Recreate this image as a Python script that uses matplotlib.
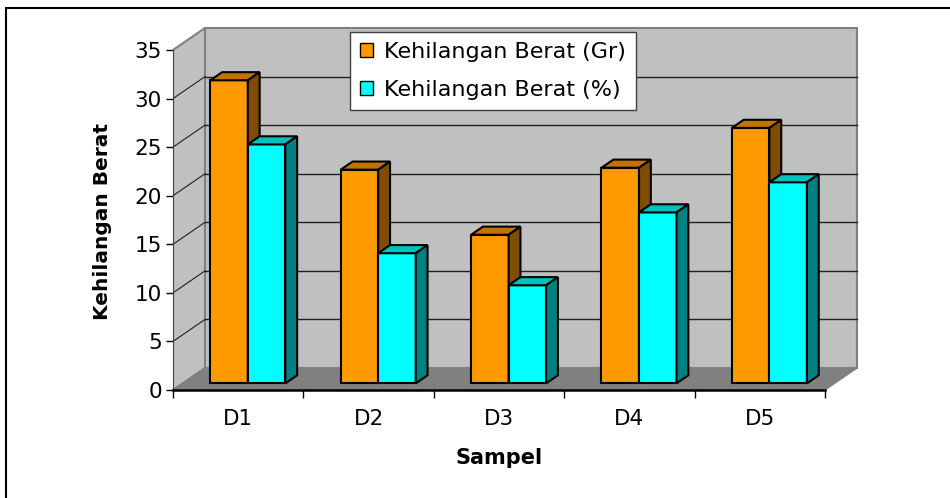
import numpy as np
import matplotlib
matplotlib.use('Agg')
import matplotlib.pyplot as plt
import matplotlib.patches as mpatches
from matplotlib.patches import Polygon, Rectangle

plt.rcParams['font.family'] = ['DejaVu Sans']

categories = ['D1', 'D2', 'D3', 'D4', 'D5']
berat_gr = [31.2, 22.0, 15.3, 22.2, 26.3]
berat_pct = [24.6, 13.4, 10.1, 17.6, 20.7]
series_names = ['Kehilangan Berat (Gr)', 'Kehilangan Berat (%)']
y_ticks = [0, 5, 10, 15, 20, 25, 30, 35]

# front / top / side colours for each series
colors = [('#FF9900', '#C07300', '#7F4C00'),
          ('#00FFFF', '#00C0C0', '#008080')]

W, H = 950, 498
PX_CAT = 130.4
PX_VAL = 9.714
Y_MAX = 35

fig = plt.figure(figsize=(W / 100, H / 100), dpi=100)
ax = fig.add_axes([173 / W, (H - 390) / H, (860 - 173) / W, (390 - 26) / H])
ax.set_xlim(-0.5, -0.5 + (860 - 173) / PX_CAT)
ax.set_ylim(0, (390 - 26) / PX_VAL)

# depth of the 3d box in data units
dx = 32 / PX_CAT
dy = 22 / PX_VAL
x0, x1 = -0.5, len(categories) - 0.5

# walls and floor
ax.add_patch(Polygon([(x0 + dx, dy), (x1 + dx, dy), (x1 + dx, Y_MAX + dy), (x0 + dx, Y_MAX + dy)],
                     facecolor='#C0C0C0', edgecolor='#808080', lw=1.5, zorder=0))
ax.add_patch(Polygon([(x0, 0), (x0 + dx, dy), (x0 + dx, Y_MAX + dy), (x0, Y_MAX)],
                     facecolor='#C0C0C0', edgecolor='#808080', lw=1.5, zorder=0))
ax.add_patch(Polygon([(x0, 0), (x1, 0), (x1 + dx, dy), (x0 + dx, dy)],
                     facecolor='#808080', edgecolor='#808080', lw=1, zorder=0.5))

for v in y_ticks[1:-1]:
    ax.plot([x0 + dx, x1 + dx], [v + dy, v + dy], color='#202020', lw=1, zorder=1)
    ax.plot([x0, x0 + dx], [v, v + dy], color='#202020', lw=0.8, zorder=1)

# bars
f0, f1 = 0.30, 0.67
bw = 0.2876
bx = np.arange(len(categories))
for i in range(len(categories)):
    for s, vals in enumerate([berat_gr, berat_pct]):
        front, top, side = colors[s]
        left = bx[i] - bw + s * bw + f0 * dx
        base = f0 * dy
        h = vals[i]
        ddx = (f1 - f0) * dx
        ddy = (f1 - f0) * dy
        z = 3 + i * 2 + s * 0.5
        ax.bar(left, h, width=bw, bottom=base, align='edge', color=front,
               edgecolor='black', lw=1.5, zorder=z)
        ax.add_patch(Polygon([(left, base + h), (left + bw, base + h),
                              (left + bw + ddx, base + h + ddy), (left + ddx, base + h + ddy)],
                             facecolor=top, edgecolor='black', lw=1.5, zorder=z))
        ax.add_patch(Polygon([(left + bw, base), (left + bw, base + h),
                              (left + bw + ddx, base + h + ddy), (left + bw + ddx, base + ddy)],
                             facecolor=side, edgecolor='black', lw=1.5, zorder=z))

# axes
for sp in ['top', 'right']:
    ax.spines[sp].set_visible(False)
ax.spines['left'].set_bounds(0, Y_MAX)
ax.spines['left'].set_color('#404040')
ax.spines['bottom'].set_bounds(x0, x1)
ax.spines['bottom'].set_linewidth(1.8)
ax.spines['left'].set_zorder(20)
ax.spines['bottom'].set_zorder(20)

ax.set_yticks(y_ticks)
ax.tick_params(axis='y', direction='out', length=5, width=1, pad=3, labelsize=15.5)
ax.set_xticks(np.arange(x0, x1 + 0.01, 1))
ax.set_xticklabels([])
ax.tick_params(axis='x', which='major', direction='out', length=6, width=1)
ax.set_xticks(bx, minor=True)
ax.set_xticklabels(categories, minor=True)
ax.tick_params(axis='x', which='minor', length=0, pad=14, labelsize=15.5)

fig.text(102 / W, 1 - 222 / H, 'Kehilangan Berat', rotation=90, ha='center', va='center',
         fontsize=14.5, fontweight='bold')
fig.text(499 / W, 1 - 458 / H, 'Sampel', ha='center', va='center',
         fontsize=15, fontweight='bold')

handles = [mpatches.Patch(facecolor=colors[s][0], edgecolor='black', lw=1) for s in range(2)]
leg = fig.legend(handles, series_names, loc='upper left', bbox_to_anchor=(350 / W, 1 - 32 / H),
                 bbox_transform=fig.transFigure, fontsize=16, frameon=True, fancybox=False,
                 handlelength=0.6, handleheight=0.6, handletextpad=0.5, labelspacing=0.8,
                 borderpad=0.45, borderaxespad=0)
leg.get_frame().set_edgecolor('#404040')
leg.get_frame().set_linewidth(1)
leg.get_frame().set_alpha(1)

# chart area border (right and bottom edges fall outside the image)
fig.patches.append(Rectangle((6 / W, -0.2), 1.2, 1.2 - 8 / H, transform=fig.transFigure,
                             fill=False, edgecolor='black', lw=1.5))

fig.savefig('out.png', dpi=100)
